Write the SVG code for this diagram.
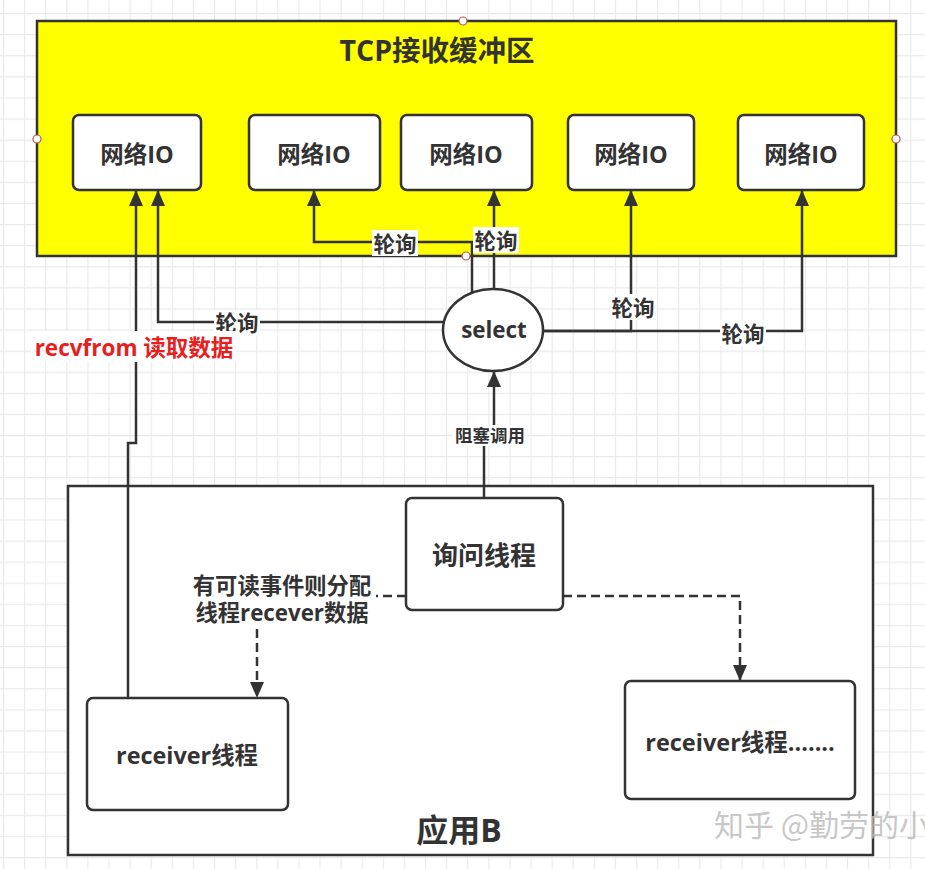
<svg xmlns="http://www.w3.org/2000/svg" width="925" height="869" viewBox="0 0 925 869">
  <style>
    .t { font-family: "Open Sans", "Noto Sans CJK SC", sans-serif; font-weight: bold; fill: #333; text-anchor: middle; dominant-baseline: central; }
    .node { fill: #fff; stroke: #333; stroke-width: 2.5; }
    .edge { fill: none; stroke: #333; stroke-width: 2.5; }
    .dash { stroke-dasharray: 9 5; }
    .lblbg { fill: #fff; }
    .handle { fill: #fff; stroke: #b85450; stroke-width: 1.2; }
  </style>
  <defs>
    <pattern id="grid" x="3" y="13" width="21.1" height="21.1" patternUnits="userSpaceOnUse">
      <path d="M0.5,0 V21.1 M0,0.5 H21.1" fill="none" stroke="#e9e9e9" stroke-width="1.2"/>
    </pattern>
    <marker id="arrow" viewBox="0 -8 17 16" refX="16" refY="0" markerWidth="17" markerHeight="16" markerUnits="userSpaceOnUse" orient="auto">
      <path d="M0,-7 L16,0 L0,7 Z" fill="#333"/>
    </marker>
  </defs>

  <!-- canvas -->
  <rect width="925" height="869" fill="#fff"/>
  <rect width="925" height="869" fill="url(#grid)"/>

  <!-- TCP receive buffer container -->
  <g id="tcp-buffer">
    <rect x="37" y="21" width="859" height="235" fill="#ffff00" stroke="#333" stroke-width="2.5"/>
    <text class="t" x="437" y="50" font-size="28.5">TCP接收缓冲区</text>
  </g>

  <!-- application container -->
  <g id="app-b">
    <rect x="68" y="486" width="805" height="369" fill="#fff" stroke="#333" stroke-width="2.5"/>
    <text class="t" x="459" y="829" font-size="32">应用B</text>
  </g>

  <!-- network IO nodes -->
  <g id="io-1">
    <rect class="node" x="73" y="115" width="128" height="75" rx="6"/>
    <text class="t" x="137" y="154" font-size="23.5">网络IO</text>
  </g>
  <g id="io-2">
    <rect class="node" x="249" y="115" width="131" height="75" rx="6"/>
    <text class="t" x="314" y="154" font-size="23.5">网络IO</text>
  </g>
  <g id="io-3">
    <rect class="node" x="401" y="115" width="131" height="75" rx="6"/>
    <text class="t" x="466" y="154" font-size="23.5">网络IO</text>
  </g>
  <g id="io-4">
    <rect class="node" x="568" y="115" width="126" height="75" rx="6"/>
    <text class="t" x="631" y="154" font-size="23.5">网络IO</text>
  </g>
  <g id="io-5">
    <rect class="node" x="738" y="115" width="126" height="75" rx="6"/>
    <text class="t" x="801" y="154" font-size="23.5">网络IO</text>
  </g>

  <!-- connectors -->
  <g id="connectors">
    <path class="edge" d="M128,698 V443 H136 V190" marker-end="url(#arrow)"/>
    <path class="edge" d="M444,322 H158 V190" marker-end="url(#arrow)"/>
    <path class="edge" d="M472,293 V242 H314 V190" marker-end="url(#arrow)"/>
    <path class="edge" d="M494,289 V190" marker-end="url(#arrow)"/>
    <path class="edge" d="M543,331 H631 V190" marker-end="url(#arrow)"/>
    <path class="edge" d="M543,331 H802 V190" marker-end="url(#arrow)"/>
    <path class="edge" d="M484,498 V436 H494 V371" marker-end="url(#arrow)"/>
    <path class="edge dash" d="M406,596 H257 V698" marker-end="url(#arrow)"/>
    <path class="edge dash" d="M563,596 H740 V681" marker-end="url(#arrow)"/>

    <!-- edge labels -->
    <rect class="lblbg" x="214" y="310" width="46" height="25"/>
    <text class="t" x="237" y="322" font-size="21.5">轮询</text>
    <rect class="lblbg" x="372" y="230" width="46" height="26"/>
    <text class="t" x="395" y="243" font-size="21.5">轮询</text>
    <rect class="lblbg" x="473" y="227" width="46" height="26"/>
    <text class="t" x="496" y="240" font-size="21.5">轮询</text>
    <rect class="lblbg" x="610" y="294" width="46" height="26"/>
    <text class="t" x="633" y="307" font-size="21.5">轮询</text>
    <rect class="lblbg" x="720" y="320" width="46" height="26"/>
    <text class="t" x="743" y="333" font-size="21.5">轮询</text>
    <rect class="lblbg" x="452" y="425" width="76" height="21"/>
    <text class="t" x="490" y="435" font-size="17.5" font-weight="normal">阻塞调用</text>
    <rect class="lblbg" x="188" y="571" width="188" height="56"/>
    <text class="t" x="282" y="585" font-size="22.3">有可读事件则分配</text>
    <text class="t" x="282" y="612" font-size="22.3">线程recever数据</text>
    <rect class="lblbg" x="31" y="331" width="205" height="31"/>
    <text class="t" x="134" y="347" font-size="22.5" style="fill:#e8201d">recvfrom 读取数据</text>
  </g>

  <!-- select node -->
  <g id="select">
    <ellipse cx="493" cy="330" rx="50" ry="41" fill="#fff" stroke="#333" stroke-width="2.5"/>
    <text class="t" x="494" y="329" font-size="22.4">select</text>
  </g>

  <!-- polling thread -->
  <g id="poll-thread">
    <rect class="node" x="406" y="498" width="157" height="112" rx="6"/>
    <text class="t" x="484" y="555" font-size="26">询问线程</text>
  </g>

  <!-- receiver threads -->
  <g id="receiver-1">
    <rect class="node" x="87" y="698" width="201" height="112" rx="6"/>
    <text class="t" x="187" y="755" font-size="23.4">receiver线程</text>
  </g>
  <g id="receiver-2">
    <rect class="node" x="625" y="681" width="230" height="118" rx="6"/>
    <text class="t" x="740" y="742" font-size="23.5">receiver线程.......</text>
  </g>

  <!-- connection handles on the buffer container -->
  <g id="handles">
    <circle class="handle" cx="463" cy="21" r="4"/>
    <circle class="handle" cx="37" cy="139" r="4"/>
    <circle class="handle" cx="896" cy="139" r="4"/>
    <circle class="handle" cx="466" cy="256" r="4"/>
  </g>

  <!-- watermark -->
  <text x="714" y="836" font-family="'Noto Sans CJK SC', sans-serif" font-size="30" fill="#bdbdbd" fill-opacity="0.85">知乎 @勤劳的小</text>
</svg>
